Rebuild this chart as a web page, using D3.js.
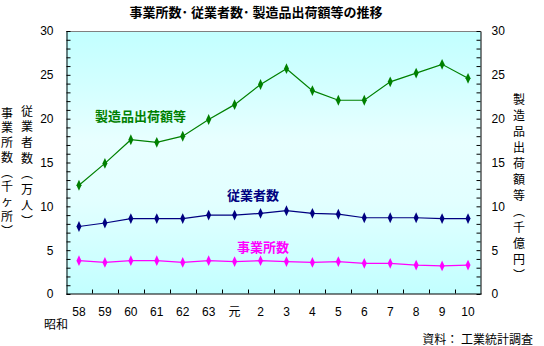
<!DOCTYPE html>
<html>
<head>
<meta charset="utf-8">
<script src="https://cdn.jsdelivr.net/npm/d3@7"></script>
<style>
  html, body { margin: 0; padding: 0; background: #ffffff; }
  svg { display: block; }
  .jp { font-family: "Noto Sans CJK JP", "Noto Sans", sans-serif; }
  .num { font-family: "Liberation Sans", "DejaVu Sans", sans-serif; font-size: 12px; fill: #000; }
</style>
</head>
<body>
<svg id="chart" width="544" height="346"></svg>
<script>
// Fiscal years (昭和58 – 平成10)
const years = ["58", "59", "60", "61", "62", "63", "元", "2", "3", "4", "5", "6", "7", "8", "9", "10"];
// 事業所数 (千ヶ所)
const establishments = [3.8, 3.6, 3.8, 3.8, 3.6, 3.8, 3.7, 3.8, 3.7, 3.6, 3.7, 3.5, 3.5, 3.3, 3.2, 3.3];
// 従業者数 (万人)
const employees = [7.7, 8.1, 8.6, 8.6, 8.6, 9.0, 9.0, 9.2, 9.5, 9.2, 9.1, 8.7, 8.7, 8.7, 8.6, 8.6];
// 製造品出荷額等 (千億円)
const shipments = [12.4, 14.9, 17.6, 17.3, 18.0, 19.9, 21.6, 23.9, 25.7, 23.2, 22.1, 22.1, 24.2, 25.2, 26.2, 24.6];
// Axis ticks
const yTicks = d3.range(0, 31, 1);
const yLabelEvery = 5;

const svg = d3.select("#chart");
const plot = { left: 66, right: 481, top: 31, bottom: 294 };

const x = d3.scaleBand().domain(years).range([plot.left, plot.right]).padding(0);
const yLeft = d3.scaleLinear().domain([0, 30]).range([plot.bottom, plot.top]);
const yRight = d3.scaleLinear().domain([0, 30]).range([plot.bottom, plot.top]);

// Plot background gradient
const defs = svg.append("defs");
const grad = defs.append("linearGradient").attr("id", "bg")
  .attr("x1", 0).attr("y1", 0).attr("x2", 0).attr("y2", 1);
[["0%", "#c2ffff"], ["20%", "#d2ffff"], ["42%", "#e8ffff"], ["65%", "#e2ffff"], ["100%", "#c2ffff"]]
  .forEach(([o, c]) => grad.append("stop").attr("offset", o).attr("stop-color", c));

svg.append("rect")
  .attr("x", plot.left).attr("y", plot.top)
  .attr("width", plot.right - plot.left).attr("height", plot.bottom - plot.top)
  .attr("fill", "url(#bg)");

// Top frame line (grey)
svg.append("line")
  .attr("x1", plot.left).attr("x2", plot.right)
  .attr("y1", plot.top + 0.5).attr("y2", plot.top + 0.5)
  .attr("stroke", "#808080");

// Left axis
const fmt = d => (d % yLabelEvery === 0 ? d : "");
const gl = svg.append("g").attr("transform", `translate(${plot.left + 0.5},0)`)
  .call(d3.axisLeft(yLeft).tickValues(yTicks).tickSize(-4).tickSizeOuter(0).tickPadding(13).tickFormat(fmt));
// Right axis
const gr = svg.append("g").attr("transform", `translate(${plot.right - 0.5},0)`)
  .call(d3.axisRight(yRight).tickValues(yTicks).tickSize(-4).tickSizeOuter(0).tickPadding(11).tickFormat(fmt));
// Bottom axis (labels centred in bands)
const gb = svg.append("g").attr("transform", `translate(0,${plot.bottom - 0.5})`)
  .call(d3.axisBottom(x).tickSize(0).tickSizeOuter(0).tickPadding(14));
// Band boundary ticks pointing inward
gb.selectAll(".bound").data(years.slice(1)).enter().append("line")
  .attr("class", "bound")
  .attr("x1", d => Math.round(x(d)) + 0.5).attr("x2", d => Math.round(x(d)) + 0.5)
  .attr("y1", 0).attr("y2", -4).attr("stroke", "#000");

[gl, gr, gb].forEach(g => {
  g.selectAll("path.domain").attr("stroke", "#000");
  g.selectAll(".tick line").attr("stroke", "#000");
  g.selectAll("text").attr("class", "num").attr("font-size", null).attr("font-family", null);
});
gb.selectAll(".tick text").filter(d => d === "元").attr("class", "jp").style("font-size", "12px");

// Series
const series = [
  { name: "事業所数", values: establishments, color: "#ff00ff", scale: yLeft },
  { name: "従業者数", values: employees, color: "#000080", scale: yLeft },
  { name: "製造品出荷額等", values: shipments, color: "#008000", scale: yRight }
];
const diamond = d3.symbol().type(d3.symbolDiamond).size(34);

series.forEach(s => {
  const line = d3.line().x((d, i) => x(years[i]) + x.bandwidth() / 2).y(d => s.scale(d));
  svg.append("path").datum(s.values)
    .attr("d", line).attr("fill", "none").attr("stroke", s.color).attr("stroke-width", 1.2);
  svg.selectAll(null).data(s.values).enter().append("path")
    .attr("d", diamond)
    .attr("transform", (d, i) => `translate(${x(years[i]) + x.bandwidth() / 2},${s.scale(d)}) scale(0.8,1)`)
    .attr("fill", s.color);
});

// Series labels
const labels = [
  { text: "製造品出荷額等", x: 95, y: 121, color: "#008000" },
  { text: "従業者数", x: 227, y: 200, color: "#000080" },
  { text: "事業所数", x: 237, y: 252, color: "#ff00ff" }
];
svg.selectAll(null).data(labels).enter().append("text")
  .attr("class", "jp")
  .attr("x", d => d.x).attr("y", d => d.y)
  .attr("fill", d => d.color)
  .style("font-size", "13px").style("font-weight", "bold")
  .text(d => d.text);

// Title
svg.append("text").attr("class", "jp")
  .attr("x", 256).attr("y", 17).attr("text-anchor", "middle")
  .style("font-size", "13px").style("font-weight", "bold")
  .text("事業所数･ 従業者数･ 製造品出荷額等の推移");

// Vertical axis titles, one glyph per line
function vertical(chars, cx, yStart, yEnd) {
  const step = (yEnd - yStart) / (chars.length - 1);
  svg.append("g").selectAll("text").data(chars).enter().append("text")
    .attr("class", "jp")
    .attr("x", cx).attr("y", (d, i) => yStart + i * step)
    .attr("text-anchor", "middle").attr("dominant-baseline", "central")
    .style("font-size", "12px")
    .text(d => d);
}
vertical(Array.from("事業所数︵千ヶ所︶"), 7, 112, 230);
vertical(Array.from("従業者数︵万人︶"), 27, 110, 220);
vertical(Array.from("製造品出荷額等︵千億円︶"), 519, 98, 274);

// Era label and source
svg.append("text").attr("class", "jp")
  .attr("x", 44).attr("y", 329).style("font-size", "12px").text("昭和");
svg.append("text").attr("class", "jp")
  .attr("x", 533).attr("y", 344).attr("text-anchor", "end").style("font-size", "12px")
  .text("資料： 工業統計調査");
</script>
</body>
</html>
